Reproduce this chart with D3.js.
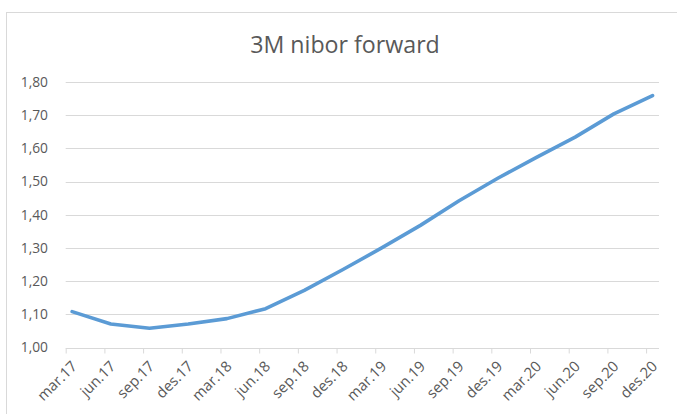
<!DOCTYPE html>
<html><head><meta charset="utf-8">
<script src="https://cdn.jsdelivr.net/npm/d3@7/dist/d3.min.js"></script>
<style>
html,body{margin:0;padding:0;background:#fff;}
svg{display:block;}
text{font-family:"Open Sans",sans-serif;fill:#595959;}
</style></head>
<body>
<svg id="chart" width="677" height="414"></svg>
<script>
const title = "3M nibor forward";
const categories = ["mar.17","jun.17","sep.17","des.17","mar.18","jun.18","sep.18","des.18",
  "mar.19","jun.19","sep.19","des.19","mar.20","jun.20","sep.20","des.20"];
const monthOffsets = [0,3,6,9,12,15,18,21,24,27,30,33,36,39,42,45];
const values = [1.108,1.071,1.058,1.071,1.087,1.117,1.172,1.235,1.300,1.368,1.442,1.510,1.573,1.634,1.704,1.759];
const yTicks = [1.0,1.1,1.2,1.3,1.4,1.5,1.6,1.7,1.8];
const totalMonths = 46;

const svg = d3.select("#chart");
// chart area border
svg.append("rect").attr("x",6.5).attr("y",12.5).attr("width",680).attr("height",420)
  .attr("fill","#fff").attr("stroke","#d9d9d9").attr("stroke-width",1);

const pL = 65.7, pR = 659, pT = 82, pB = 347.5;
const x = d3.scaleLinear().domain([0,totalMonths]).range([pL,pR]);
const y = d3.scaleLinear().domain([1.0,1.8]).range([pB,pT]);

// title
svg.append("text").attr("x",345).attr("y",52.5).attr("text-anchor","middle")
  .style("font-size","23.2px").text(title);

// gridlines
const grid = svg.append("g");
grid.selectAll("line").data(yTicks.slice(1)).join("line")
  .attr("x1",pL).attr("x2",pR)
  .attr("y1",d=>Math.round(y(d))+0.5).attr("y2",d=>Math.round(y(d))+0.5)
  .attr("stroke","#d9d9d9").attr("stroke-width",1);

// y axis labels
const yAxis = d3.axisLeft(y).tickValues(yTicks).tickSize(0).tickPadding(0)
  .tickFormat(d=>d3.format(".2f")(d).replace(".",","));
const yg = svg.append("g").attr("transform",`translate(${48},0)`).call(yAxis);
yg.select(".domain").remove();
yg.selectAll("text").style("font-size","13.8px").attr("fill","#595959").attr("font-family","Open Sans");

// x axis
const xAxis = d3.axisBottom(x).tickValues(monthOffsets).tickSize(5).tickFormat("");
const xg = svg.append("g").attr("transform",`translate(0,${Math.round(pB)+0.5})`).call(xAxis);
xg.select(".domain").attr("stroke","#d9d9d9").attr("d",`M${pL},0H${pR}`);
xg.selectAll(".tick line").attr("stroke","#d9d9d9");

// x labels (centered on month slot)
svg.append("g").selectAll("text").data(categories).join("text")
  .attr("transform",(d,i)=>`translate(${x(monthOffsets[i]+0.5)+1.5},${363}) rotate(-45)`)
  .attr("text-anchor","end").attr("dominant-baseline","central")
  .style("font-size","14.8px").text(d=>d);

// line
const line = d3.line().x((d,i)=>x(monthOffsets[i]+0.5)).y(d=>y(d));
svg.append("path").datum(values).attr("d",line).attr("fill","none")
  .attr("stroke","#5b9bd5").attr("stroke-width",3.6).attr("stroke-linecap","round").attr("stroke-linejoin","round");
</script>
</body></html>
